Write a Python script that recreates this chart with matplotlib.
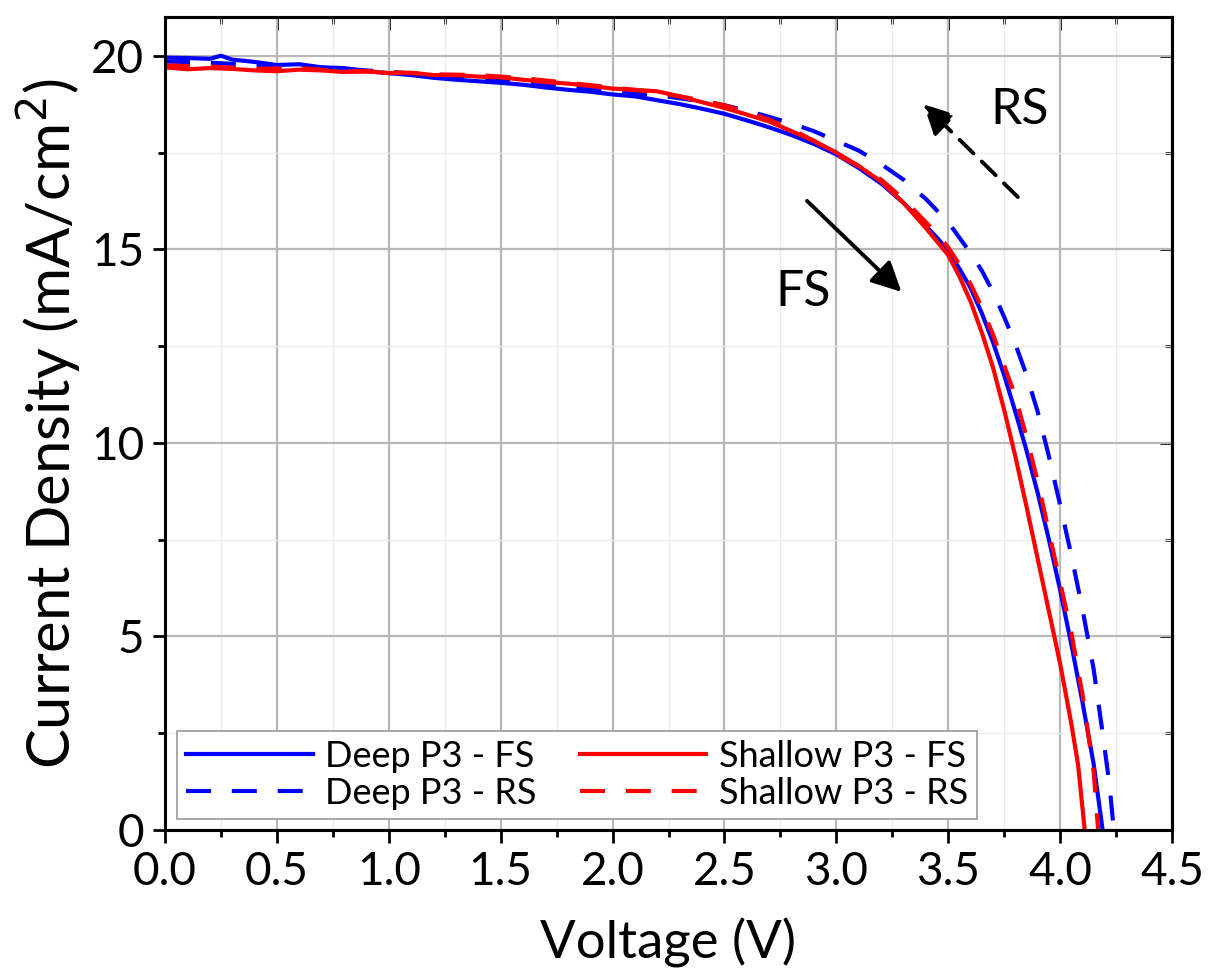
import matplotlib
matplotlib.use("Agg")
import matplotlib.pyplot as plt
from matplotlib.ticker import MultipleLocator

plt.rcParams['font.family'] = ['Lato', 'DejaVu Sans']

# Deep P3 - forward scan (blue solid)
V_deep_fs = [0.0, 0.1, 0.2, 0.25, 0.3, 0.4, 0.5, 0.6, 0.7, 0.8, 0.9, 1.0, 1.1, 1.2, 1.3,
             1.4, 1.5, 1.6, 1.7, 1.8, 1.9, 2.0, 2.1, 2.2, 2.3, 2.4, 2.5, 2.6, 2.7, 2.8,
             2.9, 3.0, 3.1, 3.2, 3.3, 3.4, 3.45, 3.5, 3.55, 3.6, 3.65, 3.7, 3.75, 3.8,
             3.85, 3.9, 3.95, 4.0, 4.05, 4.1, 4.15, 4.19]
J_deep_fs = [19.95, 19.94, 19.92, 20.0, 19.9, 19.84, 19.76, 19.78, 19.7, 19.68, 19.6, 19.55,
             19.5, 19.43, 19.38, 19.34, 19.3, 19.25, 19.18, 19.12, 19.07, 19.0, 18.95, 18.85,
             18.75, 18.63, 18.5, 18.33, 18.15, 17.95, 17.72, 17.45, 17.1, 16.7, 16.2, 15.6,
             15.3, 14.95, 14.5, 14.0, 13.35, 12.6, 11.75, 10.8, 9.8, 8.7, 7.5, 6.2, 4.8,
             3.3, 1.7, 0.0]

# Shallow P3 - forward scan (red solid)
V_shallow_fs = [0.0, 0.1, 0.2, 0.3, 0.4, 0.5, 0.6, 0.7, 0.8, 0.9, 1.0, 1.1, 1.2, 1.3, 1.4,
                1.5, 1.6, 1.7, 1.8, 1.9, 2.0, 2.1, 2.2, 2.3, 2.4, 2.5, 2.6, 2.7, 2.8, 2.9,
                3.0, 3.1, 3.2, 3.3, 3.4, 3.45, 3.5, 3.55, 3.6, 3.65, 3.7, 3.75, 3.8, 3.85,
                3.9, 3.95, 4.0, 4.05, 4.08, 4.11]
J_shallow_fs = [19.7, 19.65, 19.68, 19.66, 19.62, 19.6, 19.64, 19.62, 19.58, 19.6, 19.55,
                19.56, 19.5, 19.5, 19.46, 19.44, 19.38, 19.32, 19.28, 19.22, 19.15, 19.12,
                19.08, 18.95, 18.8, 18.65, 18.48, 18.3, 18.05, 17.8, 17.5, 17.15, 16.75,
                16.2, 15.55, 15.2, 14.85, 14.3, 13.65, 12.85, 11.95, 10.85, 9.65, 8.35,
                7.0, 5.65, 4.3, 2.75, 1.7, 0.0]

# Deep P3 - reverse scan (blue dashed)
V_deep_rs = [0.0, 0.2, 0.4, 0.6, 0.8, 1.0, 1.2, 1.4, 1.6, 1.8, 2.0, 2.2, 2.4, 2.5, 2.6,
             2.7, 2.8, 2.9, 3.0, 3.1, 3.2, 3.3, 3.4, 3.45, 3.5, 3.55, 3.6, 3.65, 3.7,
             3.75, 3.8, 3.85, 3.9, 3.95, 4.0, 4.05, 4.1, 4.15, 4.19, 4.22, 4.24]
J_deep_rs = [19.85, 19.82, 19.76, 19.72, 19.66, 19.58, 19.5, 19.42, 19.32, 19.2, 19.08,
             18.98, 18.82, 18.72, 18.58, 18.42, 18.25, 18.05, 17.8, 17.55, 17.2, 16.8,
             16.3, 16.0, 15.7, 15.3, 14.9, 14.45, 13.9, 13.25, 12.55, 11.75, 10.8, 9.65,
             8.4, 7.1, 5.7, 4.15, 2.5, 1.2, 0.0]

# Shallow P3 - reverse scan (red dashed)
V_shallow_rs = [0.0, 0.2, 0.4, 0.6, 0.8, 1.0, 1.2, 1.4, 1.6, 1.8, 2.0, 2.2, 2.4, 2.5, 2.6,
                2.7, 2.8, 2.9, 3.0, 3.1, 3.2, 3.3, 3.4, 3.45, 3.5, 3.55, 3.6, 3.65, 3.7,
                3.75, 3.8, 3.85, 3.9, 3.95, 4.0, 4.05, 4.1, 4.15, 4.17]
J_shallow_rs = [19.75, 19.72, 19.66, 19.68, 19.6, 19.58, 19.52, 19.5, 19.42, 19.3, 19.18,
                19.05, 18.85, 18.72, 18.55, 18.35, 18.1, 17.8, 17.45, 17.15, 16.8, 16.3,
                15.7, 15.4, 15.05, 14.6, 14.1, 13.5, 12.8, 12.0, 11.2, 10.15, 9.0, 7.7,
                6.4, 5.1, 3.5, 1.5, 0.0]

fs_arrow = [(2.86, 16.3), (3.30, 13.85)]
rs_arrow = [(3.82, 16.3), (3.38, 18.8)]

fig = plt.figure(figsize=(12.11, 9.74), dpi=100)
ax = fig.add_axes([165 / 1211, 144 / 974, 1007 / 1211, 813 / 974])

lw = 3.0
ax.plot(V_deep_fs, J_deep_fs, color='#0000ff', lw=lw, label='Deep P3 - FS')
ax.plot(V_deep_rs, J_deep_rs, color='#0000ff', lw=lw, dashes=(6, 5), label='Deep P3 - RS')
ax.plot(V_shallow_fs, J_shallow_fs, color='#ff0000', lw=lw, label='Shallow P3 - FS')
ax.plot(V_shallow_rs, J_shallow_rs, color='#ff0000', lw=lw, dashes=(6, 5), label='Shallow P3 - RS')

ax.set_xlim(0, 4.5)
ax.set_ylim(0, 21)
ax.xaxis.set_major_locator(MultipleLocator(0.5))
ax.xaxis.set_minor_locator(MultipleLocator(0.25))
ax.yaxis.set_major_locator(MultipleLocator(5))
ax.yaxis.set_minor_locator(MultipleLocator(2.5))
ax.xaxis.set_major_formatter(lambda x, pos: f'{x:.1f}')

ax.grid(True, which='major', color='#b8b8b8', lw=1.6)
ax.grid(True, which='minor', color='#ececec', lw=1.0)
ax.set_axisbelow(True)

for s in ax.spines.values():
    s.set_linewidth(2.2)
ax.tick_params(which='both', direction='out', width=2, labelsize=33, pad=6)
ax.tick_params(which='major', length=9)
ax.tick_params(which='minor', length=5)

# top / right ticks point inwards
top = ax.secondary_xaxis('top')
right = ax.secondary_yaxis('right')
for sec in (top, right):
    sec.tick_params(which='both', direction='in', width=2, labelleft=False,
                    labelright=False, labeltop=False, labelbottom=False)
    sec.tick_params(which='major', length=9)
    sec.tick_params(which='minor', length=5)
    for s in sec.spines.values():
        s.set_linewidth(2.2)
top.xaxis.set_major_locator(MultipleLocator(0.5))
top.xaxis.set_minor_locator(MultipleLocator(0.25))
right.yaxis.set_major_locator(MultipleLocator(5))
right.yaxis.set_minor_locator(MultipleLocator(2.5))

ax.set_xlabel('Voltage (V)', fontsize=38, labelpad=18)
ax.set_ylabel('Current Density (mA/cm$^2$)', fontsize=43, labelpad=6)

ax.annotate('', xy=fs_arrow[1], xytext=fs_arrow[0],
            arrowprops=dict(arrowstyle='-|>', color='black', lw=2.8, mutation_scale=45))
ax.annotate('', xy=rs_arrow[1], xytext=rs_arrow[0],
            arrowprops=dict(arrowstyle='-|>', color='black', lw=2.8, mutation_scale=45,
                            linestyle=(0, (5, 3))))
ax.text(2.85, 13.9, 'FS', fontsize=36, ha='center', va='center')
ax.text(3.82, 18.6, 'RS', fontsize=36, ha='center', va='center')

leg = ax.legend(loc='lower left', bbox_to_anchor=(0.012, 0.014), ncol=2, fontsize=26,
                frameon=True, fancybox=False, edgecolor='#999999', framealpha=1,
                handlelength=3.5, handletextpad=0.35, columnspacing=1.2,
                borderaxespad=0, borderpad=0.25, labelspacing=0.1)
leg.get_frame().set_linewidth(1.2)

fig.savefig('out.png', dpi=100)
